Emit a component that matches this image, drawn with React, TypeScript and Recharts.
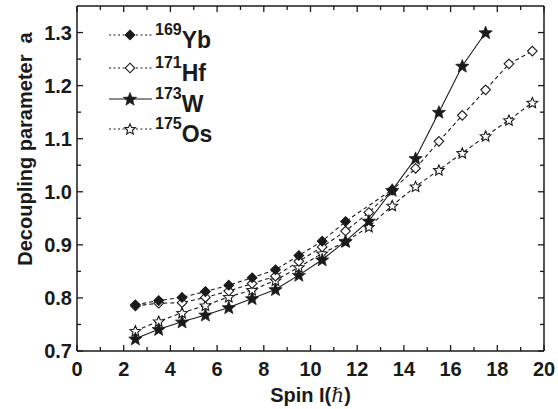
import React from 'react';
import { LineChart, Line, XAxis, YAxis, Legend } from 'recharts';

const spins = [2.5, 3.5, 4.5, 5.5, 6.5, 7.5, 8.5, 9.5, 10.5, 11.5, 12.5, 13.5, 14.5, 15.5, 16.5, 17.5, 18.5, 19.5];
const ybValues = [0.787, 0.795, 0.801, 0.812, 0.824, 0.838, 0.853, 0.880, 0.907, 0.944, null, 1.004];
const hfValues = [0.785, 0.790, 0.791, 0.801, 0.813, 0.827, 0.841, 0.869, 0.896, 0.926, 0.961, 1.003, 1.044, 1.095, 1.144, 1.192, 1.241, 1.265];
const wValues = [0.723, 0.741, 0.755, 0.768, 0.782, 0.799, 0.816, 0.843, 0.872, 0.907, 0.945, 1.003, 1.063, 1.150, 1.237, 1.300];
const osValues = [0.738, 0.756, 0.772, 0.786, 0.802, 0.815, 0.833, 0.858, 0.884, 0.906, 0.934, 0.974, 1.010, 1.041, 1.073, 1.105, 1.135, 1.168];

const isotopeMass = ['169', '171', '173', '175'];
const isotopeSymbol = ['Yb', 'Hf', 'W', 'Os'];
const seriesKeys = ['yb', 'hf', 'w', 'os'];
const markerKinds = ['filledDiamond', 'openDiamond', 'filledStar', 'openStar'];

const xMajorTicks = [0, 2, 4, 6, 8, 10, 12, 14, 16, 18, 20];
const xMinorTicks = [1, 3, 5, 7, 9, 11, 13, 15, 17, 19];
const yMajorTicks = [0.7, 0.8, 0.9, 1.0, 1.1, 1.2, 1.3];
const yMinorTicks = [0.75, 0.85, 0.95, 1.05, 1.15, 1.25];

const xTicks = [...xMajorTicks, ...xMinorTicks].sort((a, b) => a - b);
const yTicks = [...yMajorTicks, ...yMinorTicks].sort((a, b) => a - b);

const data = spins.map((s, i) => ({
  spin: s,
  yb: ybValues[i] ?? null,
  hf: hfValues[i] ?? null,
  w: wValues[i] ?? null,
  os: osValues[i] ?? null,
}));

const FONT = '"Liberation Sans", Arial, Helvetica, sans-serif';
const INK = '#1a1a1a';

function starPoints(x: number, y: number, R: number, r: number) {
  const pts: string[] = [];
  for (let k = 0; k < 10; k++) {
    const rad = k % 2 === 0 ? R : r;
    const a = -Math.PI / 2 + (k * Math.PI) / 5;
    pts.push(`${x + rad * Math.cos(a)},${y + rad * Math.sin(a)}`);
  }
  return pts.join(' ');
}

function Marker({ kind, x, y }: { kind: string; x: number; y: number }) {
  if (kind === 'filledDiamond' || kind === 'openDiamond') {
    const r = 4.8;
    const filled = kind === 'filledDiamond';
    return (
      <polygon
        points={`${x},${y - r} ${x + r},${y} ${x},${y + r} ${x - r},${y}`}
        fill={filled ? INK : '#fff'}
        stroke={INK}
        strokeWidth={1.1}
      />
    );
  }
  if (kind === 'filledStar') {
    return <polygon points={starPoints(x, y + 0.5, 7, 3)} fill={INK} stroke={INK} strokeWidth={0.7} />;
  }
  return <polygon points={starPoints(x, y + 0.5, 5.6, 2.6)} fill="#fff" stroke={INK} strokeWidth={1.1} />;
}

const makeDot = (kind: string) => (props: any) => {
  const { cx, cy, index } = props;
  if (cx == null || cy == null || Number.isNaN(cy) || props.value == null) {
    return <g key={`${kind}-${index}`} />;
  }
  return (
    <g key={`${kind}-${index}`}>
      <Marker kind={kind} x={cx} y={cy} />
    </g>
  );
};

const BottomTick = (props: any) => {
  const { x, y, payload } = props;
  const major = xMajorTicks.includes(payload.value);
  return (
    <g>
      <line x1={x} x2={x} y1={y} y2={y - (major ? 6 : 4)} stroke={INK} strokeWidth={1.3} />
      {major && (
        <text x={x} y={y + 25} textAnchor="middle" fontFamily={FONT} fontWeight="bold" fontSize={20} fill={INK}>
          {payload.value}
        </text>
      )}
    </g>
  );
};

const TopTick = (props: any) => {
  const { x, y, payload } = props;
  const major = xMajorTicks.includes(payload.value);
  return <line x1={x} x2={x} y1={y} y2={y + (major ? 6 : 4)} stroke={INK} strokeWidth={1.3} />;
};

const isYMajor = (v: number) => yMajorTicks.some((t) => Math.abs(t - v) < 1e-6);

const LeftTick = (props: any) => {
  const { x, y, payload } = props;
  const major = isYMajor(payload.value);
  return (
    <g>
      <line x1={x} x2={x + (major ? 6 : 4)} y1={y} y2={y} stroke={INK} strokeWidth={1.3} />
      {major && (
        <text x={x - 5} y={y + 7} textAnchor="end" fontFamily={FONT} fontWeight="bold" fontSize={20} fill={INK}>
          {payload.value.toFixed(1)}
        </text>
      )}
    </g>
  );
};

const RightTick = (props: any) => {
  const { x, y, payload } = props;
  const major = isYMajor(payload.value);
  return <line x1={x} x2={x - (major ? 6 : 4)} y1={y} y2={y} stroke={INK} strokeWidth={1.3} />;
};

const legendRowsY = [35, 68, 99, 129];

const LegendBox = () => (
  <svg width={260} height={150} style={{ display: 'block' }}>
    {seriesKeys.map((k, i) => {
      const y = legendRowsY[i];
      const solid = k === 'w';
      return (
        <g key={k}>
          <line x1={109} x2={152} y1={y} y2={y} stroke={INK} strokeWidth={1.2} strokeDasharray={solid ? undefined : '2 2.5'} />
          <Marker kind={markerKinds[i]} x={130} y={y} />
          <text x={155} y={y + 13} fontFamily={FONT} fontWeight="bold" fill={INK}>
            <tspan fontSize={16} dy={-13}>{isotopeMass[i]}</tspan>
            <tspan fontSize={23} dy={13}>{isotopeSymbol[i]}</tspan>
          </text>
        </g>
      );
    })}
  </svg>
);

const YLabel = (props: any) => {
  const vb = props.viewBox || { x: 0 };
  const cx = vb.x + 25;
  const cy = 149;
  return (
    <text
      x={cx}
      y={cy}
      transform={`rotate(-90 ${cx} ${cy})`}
      textAnchor="middle"
      dominantBaseline="central"
      fontFamily={FONT}
      fontWeight="bold"
      fontSize={20}
      fill={INK}
    >
      {'Decoupling parameter\u00a0\u00a0a'}
    </text>
  );
};

const XLabel = (props: any) => {
  const vb = props.viewBox || { x: 0, y: 0, width: 0 };
  const cx = vb.x + vb.width / 2;
  return (
    <text x={cx} y={402} textAnchor="middle" fontFamily={FONT} fontWeight="bold" fontSize={20} fill={INK}>
      Spin I(
      <tspan fontFamily='"DejaVu Serif", "Liberation Serif", serif' fontStyle="italic" fontWeight="normal">
        {'\u210F'}
      </tspan>
      )
    </text>
  );
};

const axisLineStyle = { stroke: INK, strokeWidth: 1.5 };

export default function App() {
  return (
    <div style={{ position: 'absolute', left: 0, top: 0, width: 558, height: 409, background: '#fff' }}>
      <LineChart width={558} height={409} data={data} margin={{ top: 5, right: 0, bottom: 0, left: 0 }}>
        <XAxis
          xAxisId="b"
          dataKey="spin"
          type="number"
          domain={[0, 20]}
          ticks={xTicks}
          interval={0}
          height={58}
          axisLine={axisLineStyle}
          tickLine={false}
          tickSize={0}
          tickMargin={0}
          tick={<BottomTick />}
          allowDataOverflow
          label={{ content: <XLabel /> }}
        />
        <XAxis
          xAxisId="t"
          orientation="top"
          dataKey="spin"
          type="number"
          domain={[0, 20]}
          ticks={xTicks}
          interval={0}
          height={1}
          axisLine={axisLineStyle}
          tickLine={false}
          tickSize={0}
          tickMargin={0}
          tick={<TopTick />}
          allowDataOverflow
        />
        <YAxis
          yAxisId="l"
          type="number"
          domain={[0.7, 1.35]}
          ticks={yTicks}
          interval={0}
          width={77}
          axisLine={axisLineStyle}
          tickLine={false}
          tickSize={0}
          tickMargin={0}
          tick={<LeftTick />}
          allowDataOverflow
          label={{ content: <YLabel /> }}
        />
        <YAxis
          yAxisId="r"
          orientation="right"
          type="number"
          domain={[0.7, 1.35]}
          ticks={yTicks}
          interval={0}
          width={14}
          axisLine={axisLineStyle}
          tickLine={false}
          tickSize={0}
          tickMargin={0}
          tick={<RightTick />}
          allowDataOverflow
        />
        <Legend
          layout="vertical"
          verticalAlign="middle"
          align="center"
          content={() => <LegendBox />}
          wrapperStyle={{ left: 0, top: 0, width: 260, height: 150 }}
        />
        <Line xAxisId="b" yAxisId="l" dataKey="os" stroke={INK} strokeWidth={1.1} strokeDasharray="4 3" dot={makeDot('openStar')} activeDot={false} connectNulls isAnimationActive={false} />
        <Line xAxisId="b" yAxisId="l" dataKey="hf" stroke={INK} strokeWidth={1.1} strokeDasharray="4 3" dot={makeDot('openDiamond')} activeDot={false} connectNulls isAnimationActive={false} />
        <Line xAxisId="b" yAxisId="l" dataKey="yb" stroke={INK} strokeWidth={1.1} strokeDasharray="4 3" dot={makeDot('filledDiamond')} activeDot={false} connectNulls isAnimationActive={false} />
        <Line xAxisId="b" yAxisId="l" dataKey="w" stroke={INK} strokeWidth={1.1} dot={makeDot('filledStar')} activeDot={false} connectNulls isAnimationActive={false} />
      </LineChart>
    </div>
  );
}
